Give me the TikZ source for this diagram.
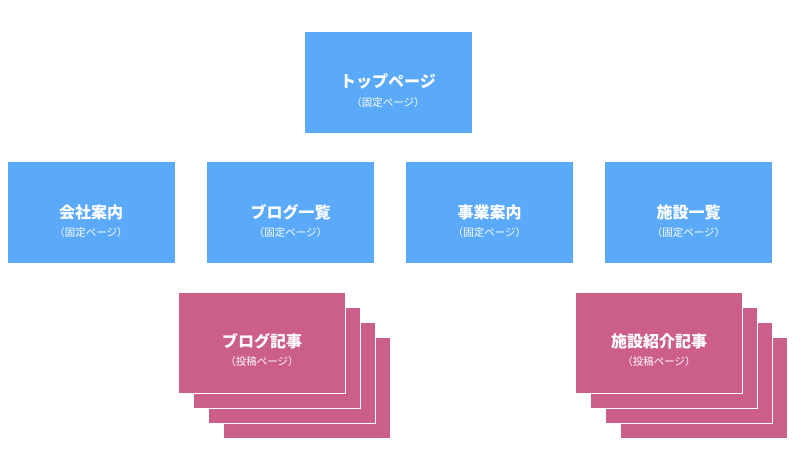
\documentclass[tikz,border=0pt]{standalone}
\usepackage{fontspec}
\newfontfamily\jp{Noto Sans CJK JP}
\usetikzlibrary{positioning}
\definecolor{fixblue}{HTML}{5AAAF9}
\definecolor{postpink}{HTML}{CC5E8A}
\tikzset{
  page/.style={rectangle,fill=fixblue,minimum width=167pt,minimum height=101pt,inner sep=0pt},
  post/.style={page,fill=postpink,draw=white,line width=1pt},
  ttl/.style={text=white,inner sep=0pt,font=\jp\bfseries\fontsize{16}{16}\selectfont},
  sub/.style={text=white,inner sep=0pt,font=\jp\fontsize{10.5}{10.5}\selectfont}
}
\begin{document}
\begin{tikzpicture}[x=1pt,y=-1pt]
\useasboundingbox (0,0) rectangle (800,475);
\node[page] (top) at (388,82.5) {};
\node[ttl] (toptitle) at ([yshift=1pt]top.center) {トップページ};
\node[sub] (topsub) at ([yshift=-20pt]top.center) {（固定ページ）};
\foreach \x/\n/\t in {91/comp/会社案内,290.5/blog/ブログ一覧,489.5/biz/事業案内,688.5/fac/施設一覧} {
  \node[page] (\n) at (\x,212.5) {};
  \node[ttl] (\n title) at ([yshift=0pt]\n.center) {\t};
  \node[sub] (\n sub) at ([yshift=-20pt]\n.center) {（固定ページ）};
}
\foreach \k in {3,2,1} {
  \node[post] (blogsheet\k) at (262+15*\k,342.5+15*\k) {};
  \node[post] (facsheet\k) at (659+15*\k,342.5+15*\k) {};
}
\node[post] (blogpost) at (262,342.5) {};
\node[ttl] (blogposttitle) at ([yshift=1pt]blogpost.center) {ブログ記事};
\node[sub] (blogpostsub) at ([yshift=-19pt]blogpost.center) {（投稿ページ）};
\node[post] (facpost) at (659,342.5) {};
\node[ttl] (facposttitle) at ([yshift=1pt]facpost.center) {施設紹介記事};
\node[sub] (facpostsub) at ([yshift=-19pt]facpost.center) {（投稿ページ）};
\end{tikzpicture}
\end{document}
